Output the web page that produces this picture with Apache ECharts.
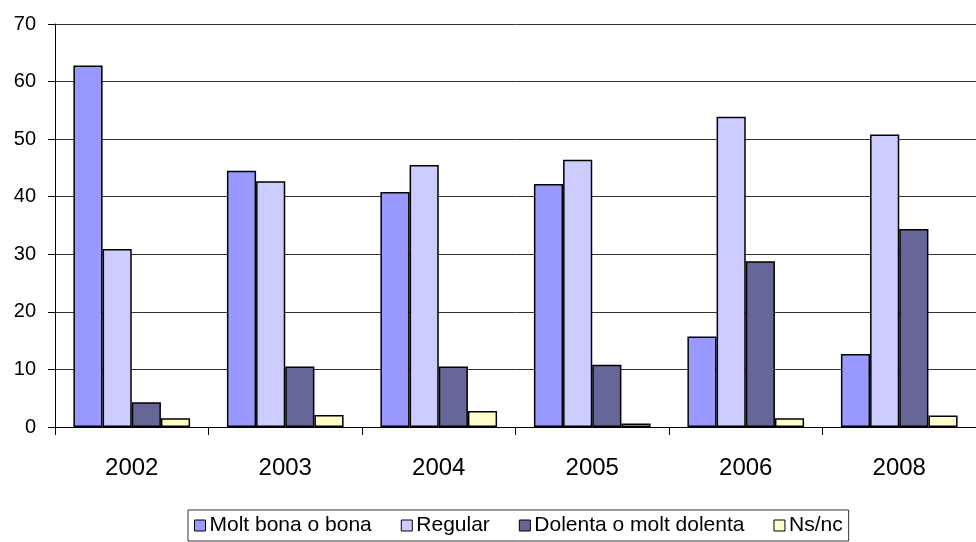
<!DOCTYPE html>
<html>
<head>
<meta charset="utf-8">
<script src="https://cdn.jsdelivr.net/npm/echarts@6/dist/echarts.min.js"></script>
<style>
  html, body { margin: 0; padding: 0; background: #fff; }
  #chart { width: 976px; height: 542px; }
</style>
</head>
<body>
<div id="chart"></div>
<script>
// categories and values
const years = ['2002', '2003', '2004', '2005', '2006', '2008']
const seriesNames = ['Molt bona o bona', 'Regular', 'Dolenta o molt dolenta', 'Ns/nc']
const bona = [62.8, 44.5, 40.8, 42.2, 15.7, 12.7]
const regular = [30.9, 42.7, 45.5, 46.4, 53.9, 50.8]
const dolenta = [4.3, 10.5, 10.5, 10.8, 28.8, 34.4]
const nsnc = [1.5, 2.1, 2.8, 0.6, 1.5, 2.0]
const colors = ['#9999ff', '#ccccff', '#666699', '#ffffcc']

const chart = echarts.init(document.getElementById('chart'))

function bar(name, data, color) {
  return {
    name: name,
    type: 'bar',
    data: data,
    barGap: '0%',
    barCategoryGap: '24%',
    itemStyle: { color: color, borderColor: '#000', borderWidth: 1.5 }
  }
}

chart.setOption({
  animation: false,
  textStyle: { fontFamily: 'Liberation Sans, Arial, sans-serif' },
  grid: { left: 55, right: 0, top: 24, bottom: 115 },
  legend: {
    data: seriesNames,
    bottom: 1,
    left: 188,
    itemWidth: 11,
    itemHeight: 11,
    itemGap: 29,
    padding: [5, 6, 5, 6],
    borderColor: '#333',
    borderWidth: 1,
    icon: 'rect',
    textStyle: { fontSize: 21, color: '#000', padding: [0, 0, 0, -1] },
    itemStyle: { borderColor: '#000', borderWidth: 1 }
  },
  xAxis: {
    type: 'category',
    data: years,
    axisLine: { lineStyle: { color: '#000', width: 1 } },
    axisTick: { show: true, length: 8, lineStyle: { color: '#000' } },
    axisLabel: { fontSize: 24, color: '#000', margin: 29 }
  },
  yAxis: {
    type: 'value',
    min: 0,
    max: 70,
    interval: 10,
    axisLine: { show: true, lineStyle: { color: '#000' } },
    axisTick: { show: true, length: 7, lineStyle: { color: '#000' } },
    axisLabel: { fontSize: 20, color: '#000', margin: 19 },
    splitLine: { lineStyle: { color: '#333', width: 1 } }
  },
  series: [
    bar(seriesNames[0], bona, colors[0]),
    bar(seriesNames[1], regular, colors[1]),
    bar(seriesNames[2], dolenta, colors[2]),
    bar(seriesNames[3], nsnc, colors[3])
  ]
})
</script>
</body>
</html>
